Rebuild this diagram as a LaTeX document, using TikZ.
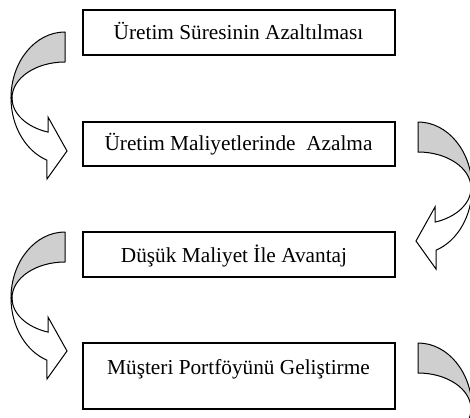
\documentclass[tikz,border=0pt]{standalone}
\usepackage{fontspec}
\setmainfont{Liberation Serif}
\begin{document}
\begin{tikzpicture}[x=1pt,y=-1pt,
  box/.style={draw=black,line width=1.1pt,minimum width=312pt,inner sep=0pt},
  lbl/.style={anchor=base,inner sep=0pt,font=\fontsize{21.3}{26}\selectfont},
  carrow/.pic={
    \filldraw[fill=gray!38,draw=black,line width=1pt,line join=round]
      (0,-66) arc[start angle=270,end angle=180,x radius=54,y radius=66]
      -- (-53,0) arc[start angle=180,end angle=270,x radius=53,y radius=36] -- cycle;
    \filldraw[fill=white,draw=black,line width=1pt,line join=miter]
      (-54,0) arc[start angle=180,end angle=109.5,x radius=54,y radius=66]
      -- (-18,81) -- (2,53) -- (-17,19) -- (-17,34.1)
      arc[start angle=108.7,end angle=180,x radius=53,y radius=36] -- cycle;
  }]
\useasboundingbox (0,0) rectangle (470,417);
\clip (0,0) rectangle (470,417);
\fill[white] (0,0) rectangle (470,417);
% boxes
\node[box,minimum height=45pt] (b1) at (239,32.5) {};
\node[box,minimum height=44pt] (b2) at (239,144) {};
\node[box,minimum height=45pt] (b3) at (239,254.5) {};
\node[box,minimum height=66pt] (b4) at (239,376) {};
% labels
\node[lbl] (t1) at (238.5,39.3) {Üretim Süresinin Azaltılması};
\node[lbl] (t2) at (238.5,150.7) {Üretim Maliyetlerinde\ \ Azalma};
\node[lbl] (t3) at (234,262.7) {Düşük Maliyet İle Avantaj};
\node[lbl] (t4) at (238.5,374) {Müşteri Portföyünü Geliştirme};
% curved arrows
\pic at (65,98) {carrow};
\pic at (65,298) {carrow};
\pic[xscale=-1] at (418,188) {carrow};
\pic[xscale=-1] at (418,409) {carrow};
\end{tikzpicture}
\end{document}
